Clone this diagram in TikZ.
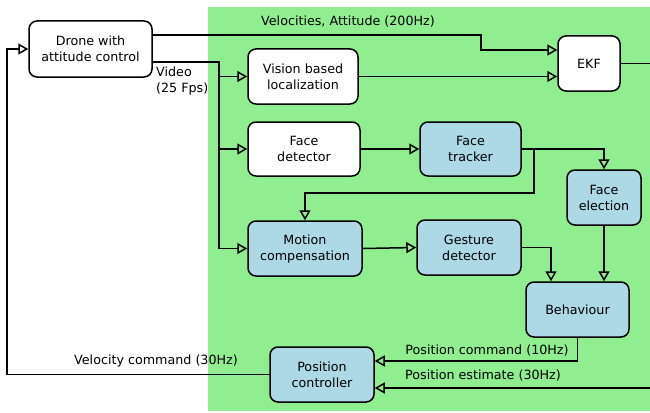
\documentclass[tikz,border=0pt]{standalone}
\usepackage{fontspec}
\setmainfont{DejaVu Sans}
\usetikzlibrary{arrows.meta}
\definecolor{bggreen}{HTML}{90EE90}
\definecolor{boxblue}{HTML}{ADD8E6}
\tikzset{
  box/.style={draw, line width=1.5pt, rounded corners=8pt, align=center,
    font=\fontsize{12.7}{16}\selectfont, inner sep=0pt, fill=white},
  bluebox/.style={box, fill=boxblue},
  conn/.style={line width=1.5pt},
  arr/.style={conn, -{Triangle[open, length=10pt, width=11pt, line width=1.5pt]}},
  lbl/.style={font=\fontsize{12.7}{16}\selectfont, inner sep=0pt}
}
\begin{document}
\begin{tikzpicture}[x=1pt,y=-1pt]
\useasboundingbox (0,0) rectangle (650,412);
\fill[bggreen] (208,7) rectangle (650,411);

\node[box, minimum width=123pt, minimum height=56pt] (drone) at (90.5,49) {Drone with\\attitude control};
\node[box, minimum width=110pt, minimum height=55pt] (vision) at (303,76.5) {Vision based\\localization};
\node[box, minimum width=62pt, minimum height=55pt] (ekf) at (589,63.5) {EKF};
\node[box, minimum width=112pt, minimum height=54pt] (facedet) at (304,149) {Face\\detector};
\node[bluebox, minimum width=101pt, minimum height=54pt] (tracker) at (470.5,149) {Face\\tracker};
\node[bluebox, minimum width=74pt, minimum height=55pt] (election) at (604,197.5) {Face\\election};
\node[bluebox, minimum width=114pt, minimum height=55pt] (motion) at (305,248.5) {Motion\\compensation};
\node[bluebox, minimum width=104pt, minimum height=55pt] (gesture) at (469,247.5) {Gesture\\detector};
\node[bluebox, minimum width=103pt, minimum height=55pt] (behav) at (577.5,309.5) {Behaviour};
\node[bluebox, minimum width=104pt, minimum height=55pt] (posctrl) at (322,374.5) {Position\\controller};

% velocities / attitude
\draw[arr] ([yshift=14pt]drone.east) -| (481,50) -- (ekf.west |- 0,50);
\node[lbl] (lv) at (348,22) {Velocities, Attitude (200Hz)};

% video trunk
\coordinate (v) at (219,62);
\draw[conn, line width=2pt] ([yshift=-13pt]drone.east) -- (v) -- (v |- motion.west);
\draw[arr] (v |- vision.west) -- (vision.west);
\draw[arr] (v |- facedet.west) -- (facedet.west);
\draw[arr] (v |- motion.west) -- (motion.west);
\node[lbl, anchor=west, align=left] (lvid) at (156,80.5) {Video\\(25 Fps)};

\draw[arr] (vision.east) -- (ekf.west |- vision.east);
\draw[arr] (facedet.east) -- (tracker.west);
\draw[arr] (tracker.east) -| (election.north);
\coordinate (t) at (534,149);
\draw[arr] (t) -- (534,193) -| (motion.north);
\draw[arr] (motion.east) -- (gesture.west);
\draw[arr] (gesture.east) -| ([xshift=-26.5pt]behav.north);
\draw[arr] (election.south) -- (election.south |- behav.north);

% position command / estimate
\draw[arr] (behav.south) |- ([yshift=13.5pt]posctrl.east);
\node[lbl] (lpc) at (487,351) {Position command (10Hz)};
\coordinate (pe) at (650,388);
\draw[arr] (pe) -- ([yshift=-13.5pt]posctrl.east);
\node[lbl] (lpe) at (483,376) {Position estimate (30Hz)};

% velocity command
\coordinate (c) at (7,49);
\draw[arr] (posctrl.west) -| (c) -- (drone.west);
\node[lbl] (lvc) at (156,361) {Velocity command (30Hz)};

% EKF out
\coordinate (e) at (650,63.5);
\draw[conn] (ekf.east) -- (e);
\end{tikzpicture}
\end{document}
